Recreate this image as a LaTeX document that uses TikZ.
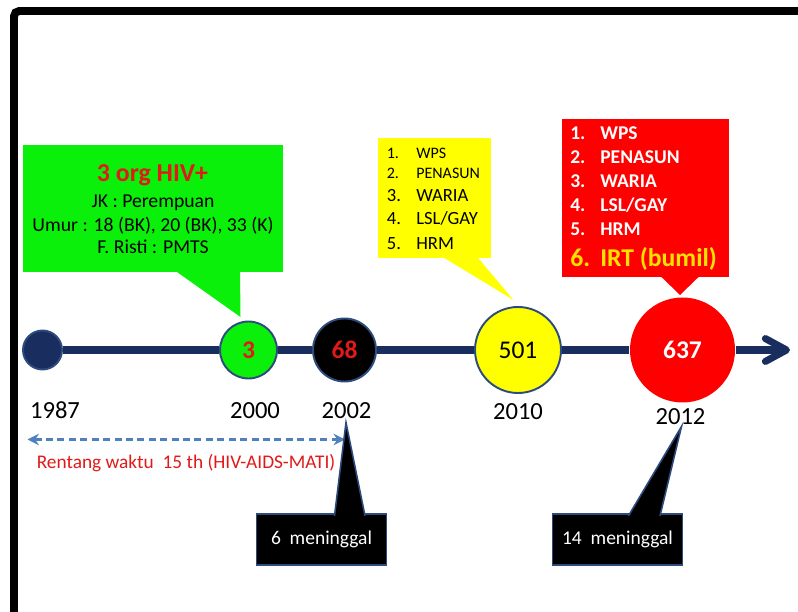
\documentclass[tikz,border=0pt]{standalone}
\usepackage{fontspec}
\setmainfont{Carlito}
\usepackage{tikz}
\usetikzlibrary{arrows.meta}

\definecolor{navyline}{RGB}{25,45,95}
\definecolor{ringblue}{RGB}{45,75,125}
\definecolor{boxgreen}{RGB}{10,240,10}
\definecolor{boxyellow}{RGB}{255,255,0}
\definecolor{boxred}{RGB}{255,0,0}
\definecolor{textred}{RGB}{225,25,25}
\definecolor{textyellow}{RGB}{255,225,0}
\definecolor{spanblue}{RGB}{79,129,189}

\begin{document}
\begin{tikzpicture}[>=stealth,
	year/.style={anchor=base, inner sep=0pt, font=\fontsize{14}{16}\selectfont},
	dot/.style={circle, draw=ringblue, line width=1.1pt, inner sep=0pt, font=\fontsize{14.5}{16}\selectfont},
	timeline/.style={navyline, line width=4pt},
	infobox/.style={rectangle, inner sep=0pt},
	deathbox/.style={rectangle, fill=black, draw=ringblue, line width=0.9pt, text=white, inner sep=0pt,
		minimum width=2.6cm, minimum height=1.02cm, font=\fontsize{11.1}{13}\selectfont},
	item/.style={anchor=base west, inner sep=0pt},
	line/.style={anchor=base, inner sep=0pt}]
	\useasboundingbox (0,0) rectangle (15.96,12.24);
	\clip (0,0) rectangle (15.96,12.24);
	
	%frame
	\draw[line width=4.5pt, rounded corners=3pt] (0.28,-0.5) -- (0.28,12.02) -- (16.5,12.02);
	
	%circles
	\node[dot, fill=navyline, minimum size=0.78cm] (c1987) at (0.85,5.24) {};
	\node[dot, fill=boxgreen, minimum size=1.14cm, text=textred] (c2000) at (4.97,5.24) {\bfseries 3};
	\node[dot, fill=black, minimum size=1.26cm, text=textred] (c2002) at (6.89,5.24) {\bfseries 68};
	\node[dot, fill=boxyellow, minimum size=1.72cm] (c2010) at (10.36,5.24) {501};
	\node[dot, fill=boxred, draw=none, minimum size=2.1cm, text=white] (c2012) at (13.65,5.24) {\bfseries 637};
	\coordinate (tlend) at (15.8,5.24);
	
	%timeline
	\draw[timeline] (c1987) -- (c2000);
	\draw[timeline] (c2000) -- (c2002);
	\draw[timeline] (c2002) -- (c2010);
	\draw[timeline] (c2010) -- (c2012);
	\draw[timeline, -{Straight Barb[length=12pt, width=13pt, round]}] (c2012) -- (tlend);
	
	%years
	\node[year] (y1987) at (1.1,3.86)   {1987};
	\node[year] (y2000) at (5.1,3.86)   {2000};
	\node[year] (y2002) at (6.93,3.86)  {2002};
	\node[year] (y2010) at (10.36,3.84) {2010};
	\node[year] (y2012) at (13.61,3.74) {2012};
	
	%green callout
	\node[infobox, fill=boxgreen, minimum width=5.2cm, minimum height=2.54cm] (gbox) at (3.06,8.07) {};
	\coordinate (gtip) at (4.81,5.9);
	\fill[boxgreen] ([xshift=0.44cm, yshift=1pt]gbox.south) -- (gtip) -- ([xshift=1.74cm, yshift=1pt]gbox.south) -- cycle;
	\node[line, text=textred, font=\bfseries\fontsize{14.7}{16}\selectfont] (gtitle) at (3.05,8.61) {3 org HIV+};
	\node[line, font=\fontsize{11.2}{13}\selectfont] (gsex)  at (3.06,8.09) {JK : Perempuan};
	\node[line, font=\fontsize{11.2}{13}\selectfont] (gage)  at (3.06,7.61) {Umur : 18 (BK), 20 (BK), 33 (K)};
	\node[line, font=\fontsize{11.2}{13}\selectfont] (grisk) at (3.06,7.16) {F. Risti : PMTS};
	
	%yellow callout
	\node[infobox, fill=boxyellow, minimum width=2.26cm, minimum height=2.4cm] (ybox) at (8.69,8.28) {};
	\coordinate (ytip) at (10.27,6.24);
	\fill[boxyellow] ([xshift=0.15cm, yshift=1pt]ybox.south) -- (ytip) -- ([xshift=0.85cm, yshift=1pt]ybox.south) -- cycle;
	\node[item, font=\fontsize{9.1}{11}\selectfont]  (y1) at (7.73,9.07) {\makebox[0.59cm][l]{1.}WPS};
	\node[item, font=\fontsize{9.1}{11}\selectfont]  (y2) at (7.73,8.67) {\makebox[0.59cm][l]{2.}PENASUN};
	\node[item, font=\fontsize{10.6}{12}\selectfont] (y3) at (7.73,8.21) {\makebox[0.59cm][l]{3.}WARIA};
	\node[item, font=\fontsize{10.6}{12}\selectfont] (y4) at (7.73,7.74) {\makebox[0.59cm][l]{4.}LSL/GAY};
	\node[item, font=\fontsize{10.6}{12}\selectfont] (y5) at (7.73,7.25) {\makebox[0.59cm][l]{5.}HRM};
	
	%red callout
	\node[infobox, fill=boxred, minimum width=3.34cm, minimum height=3.16cm] (rbox) at (12.91,8.28) {};
	\coordinate (rtip) at (13.6,6.34);
	\fill[boxred] ([xshift=0.29cm, yshift=1pt]rbox.south) -- (rtip) -- ([xshift=1.09cm, yshift=1pt]rbox.south) -- cycle;
	\node[item, text=white, font=\bfseries\fontsize{11.1}{13}\selectfont] (r1) at (11.4,9.44) {\makebox[0.6cm][l]{1.}WPS};
	\node[item, text=white, font=\bfseries\fontsize{11.1}{13}\selectfont] (r2) at (11.4,8.96) {\makebox[0.6cm][l]{2.}PENASUN};
	\node[item, text=white, font=\bfseries\fontsize{11.1}{13}\selectfont] (r3) at (11.4,8.49) {\makebox[0.6cm][l]{3.}WARIA};
	\node[item, text=white, font=\bfseries\fontsize{11.1}{13}\selectfont] (r4) at (11.4,8.0)  {\makebox[0.6cm][l]{4.}LSL/GAY};
	\node[item, text=white, font=\bfseries\fontsize{11.1}{13}\selectfont] (r5) at (11.4,7.52) {\makebox[0.6cm][l]{5.}HRM};
	\node[item, text=textyellow, font=\bfseries\fontsize{14.6}{16}\selectfont] (r6) at (11.4,6.91) {\makebox[0.6cm][l]{6.}IRT (bumil)};
	
	%time span
	\coordinate (spanl) at (0.55,3.45);
	\coordinate (spanr) at (6.9,3.45);
	\draw[{Stealth[length=6.5pt, width=6.5pt]}-{Stealth[length=6.5pt, width=6.5pt]}, spanblue, line width=1.5pt, dash pattern=on 4pt off 2.5pt] (spanl) -- (spanr);
	\node[line, text=textred, font=\fontsize{11}{13}\selectfont] (span) at (3.72,2.87) {Rentang waktu\ \ 15 th (HIV-AIDS-MATI)};
	
	%deaths
	\node[deathbox] (dbox1) at (6.43,1.45)  {6\ \ meninggal};
	\node[deathbox] (dbox2) at (12.35,1.45) {14\ \ meninggal};
	\coordinate (dtip1) at (6.92,3.79);
	\coordinate (dtip2) at (13.63,3.71);
	\filldraw[fill=black, draw=ringblue, line width=0.9pt] ([xshift=0.26cm, yshift=-1.5pt]dbox1.north) -- (dtip1) -- ([xshift=0.87cm, yshift=-1.5pt]dbox1.north);
	\filldraw[fill=black, draw=ringblue, line width=0.9pt] ([xshift=0.22cm, yshift=-1.5pt]dbox2.north) -- (dtip2) -- ([xshift=0.85cm, yshift=-1.5pt]dbox2.north);
	
	%\draw[help lines] (0,0) grid (16,12);
\end{tikzpicture}
\end{document}
